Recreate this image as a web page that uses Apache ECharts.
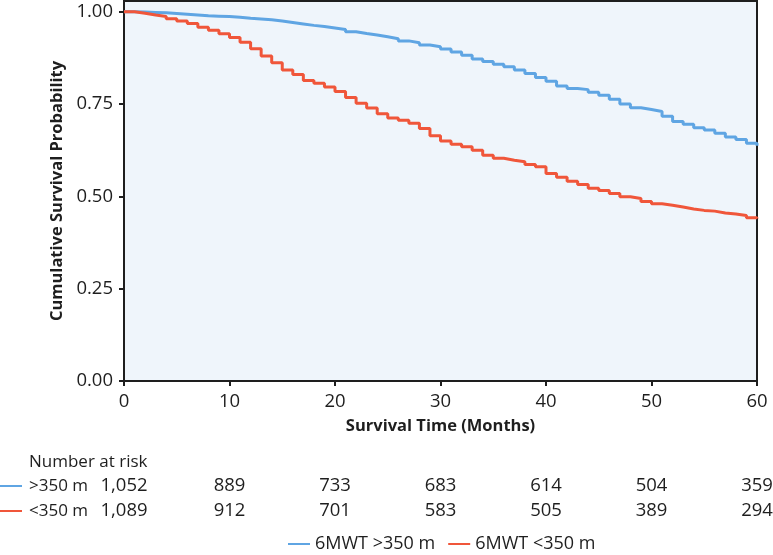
<!DOCTYPE html>
<html>
<head>
<meta charset="utf-8">
<script src="https://cdn.jsdelivr.net/npm/echarts@6/dist/echarts.min.js"></script>
<style>
html,body{margin:0;padding:0;background:#fff;}
#c{width:773px;height:555px;}
</style>
</head>
<body>
<div id="c"></div>
<script>
// ---- data ----
const times = [0,1,2,3,4,5,6,7,8,9,10,11,12,13,14,15,16,17,18,19,20,21,22,23,24,25,26,27,28,29,30,31,32,33,34,35,36,37,38,39,40,41,42,43,44,45,46,47,48,49,50,51,52,53,54,55,56,57,58,59,60];
const survHigh = [1.000,0.999,0.998,0.997,0.995,0.993,0.991,0.989,0.988,0.987,0.985,0.982,0.980,0.978,0.975,0.971,0.967,0.963,0.960,0.956,0.952,0.946,0.941,0.937,0.932,0.927,0.921,0.916,0.910,0.905,0.899,0.891,0.882,0.872,0.865,0.858,0.851,0.842,0.833,0.822,0.812,0.799,0.792,0.789,0.782,0.774,0.763,0.750,0.740,0.735,0.730,0.717,0.703,0.695,0.686,0.680,0.671,0.661,0.654,0.644,0.637];
const survLow = [1.000,0.996,0.991,0.987,0.981,0.975,0.968,0.958,0.950,0.940,0.930,0.917,0.900,0.880,0.862,0.842,0.830,0.814,0.806,0.796,0.784,0.768,0.752,0.739,0.724,0.712,0.706,0.698,0.684,0.664,0.650,0.641,0.634,0.625,0.611,0.603,0.598,0.594,0.586,0.580,0.562,0.552,0.541,0.532,0.522,0.516,0.508,0.499,0.494,0.486,0.480,0.476,0.471,0.466,0.462,0.460,0.455,0.452,0.448,0.442,0.440];
const seriesNames = ['6MWT >350 m','6MWT <350 m'];
const riskTitle = 'Number at risk';
const riskRowLabels = ['>350 m','<350 m'];
const riskTimes = [0,10,20,30,40,50,60];
const riskHigh = ['1,052','889','733','683','614','504','359'];
const riskLow = ['1,089','912','701','583','505','389','294'];
const xTitle = 'Survival Time (Months)';
const yTitle = 'Cumulative Survival Probability';

// ---- styles ----
const BLUE = '#5fa5e3';
const RED = '#f0563a';
const INK = '#1e1e1e';
const FONT = 'Open Sans';

const chart = echarts.init(document.getElementById('c'), null, {renderer:'canvas'});
const option = {
  animation:false,
  backgroundColor:'#ffffff',
  textStyle:{fontFamily:FONT},
  grid:{left:124,right:16,top:1,bottom:174,show:true,backgroundColor:'#eff5fb',borderColor:INK,borderWidth:2},
  xAxis:{
    type:'value',min:0,max:60,interval:10,
    name:xTitle,nameLocation:'middle',nameGap:37,
    nameTextStyle:{fontFamily:FONT,fontSize:16.5,fontWeight:'bold',color:INK},
    axisLine:{show:true,onZero:false,lineStyle:{color:INK,width:2}},
    axisTick:{show:true,length:5,lineStyle:{color:INK,width:2}},
    axisLabel:{fontFamily:FONT,fontSize:18.5,color:INK,margin:11},
    splitLine:{show:false}
  },
  yAxis:{
    type:'value',min:0,max:1.029,interval:0.25,
    name:yTitle,nameLocation:'middle',nameGap:54,nameRotate:90,
    nameTextStyle:{fontFamily:FONT,fontSize:16.5,fontWeight:'bold',color:INK},
    axisLine:{show:true,lineStyle:{color:INK,width:2}},
    axisTick:{show:true,length:5,lineStyle:{color:INK,width:2}},
    axisLabel:{fontFamily:FONT,fontSize:18.5,color:INK,margin:11,showMaxLabel:false,
      formatter:v=>v.toFixed(2)},
    splitLine:{show:false}
  },
  legend:{
    data:seriesNames,left:288,top:535,padding:0,
    icon:'rect',itemWidth:22,itemHeight:2,itemGap:13,
    textStyle:{fontFamily:FONT,fontSize:18,color:INK}
  },
  series:[
    {name:seriesNames[0],type:'line',step:'end',symbol:'none',color:BLUE,
      lineStyle:{color:BLUE,width:3},data:times.map((t,i)=>[t,survHigh[i]])},
    {name:seriesNames[1],type:'line',step:'end',symbol:'none',color:RED,
      lineStyle:{color:RED,width:3},data:times.map((t,i)=>[t,survLow[i]])}
  ]
};
chart.setOption(option);

// number-at-risk table positioned through the x-axis scale
const g = [];
const rowY = [486, 511];
const txtFont = '17px "Open Sans"';
const numFont = '18.5px "Open Sans"';
g.push({type:'text',x:29,y:462,style:{text:riskTitle,font:txtFont,fill:INK,verticalAlign:'middle',textVerticalAlign:'middle'}});
const rows = [riskHigh, riskLow];
const rowColors = [BLUE, RED];
rows.forEach((vals,r)=>{
  g.push({type:'line',shape:{x1:0,y1:rowY[r],x2:22,y2:rowY[r]},style:{stroke:rowColors[r],lineWidth:2}});
  g.push({type:'text',x:29,y:rowY[r],style:{text:riskRowLabels[r],font:txtFont,fill:INK,textVerticalAlign:'middle',verticalAlign:'middle'}});
  vals.forEach((v,i)=>{
    const px = chart.convertToPixel({xAxisIndex:0}, riskTimes[i]);
    g.push({type:'text',x:px,y:rowY[r],style:{text:v,font:numFont,fill:INK,align:'center',textAlign:'center',verticalAlign:'middle',textVerticalAlign:'middle'}});
  });
});
chart.setOption({graphic:g});
</script>
</body>
</html>
